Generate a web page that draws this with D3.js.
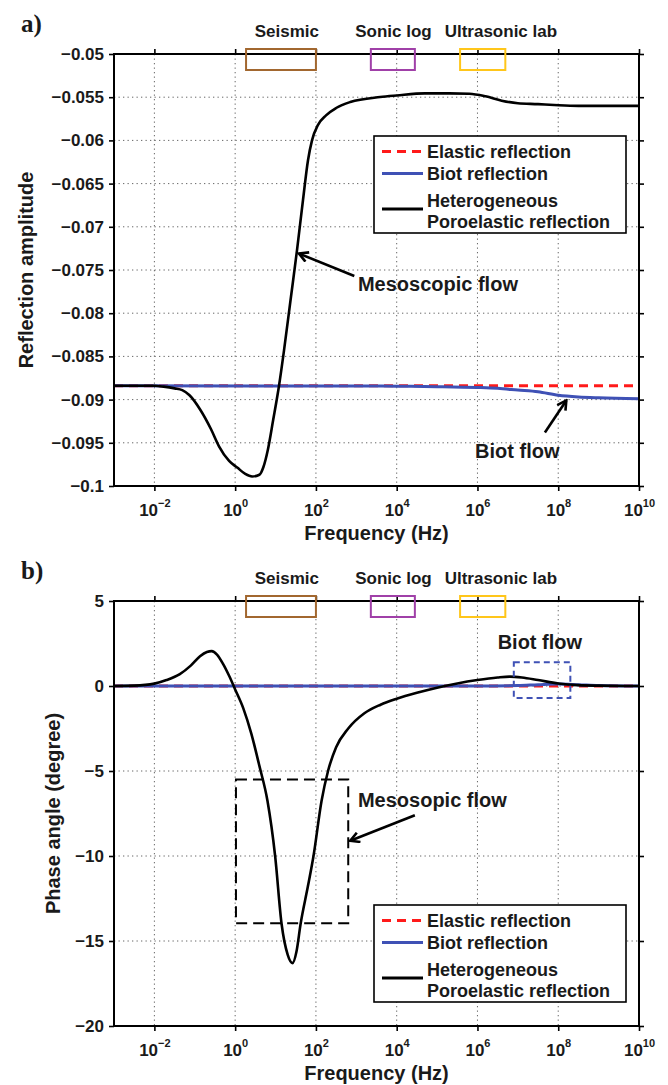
<!DOCTYPE html>
<html>
<head>
<meta charset="utf-8">
<script src="https://cdn.jsdelivr.net/npm/d3@7"></script>
<style>
  body { margin: 0; background: #fff; }
  svg text { font-family: "Liberation Sans", Arial, sans-serif; font-weight: bold; fill: #1a1a1a; }
</style>
</head>
<body>
<script>
// ---- data (frequency given as log10 of Hz) ----
var decades = [-2, 0, 2, 4, 6, 8, 10];
var ampTicks = [-0.1, -0.095, -0.09, -0.085, -0.08, -0.075, -0.07, -0.065, -0.06, -0.055, -0.05];
var phaseTicks = [-20, -15, -10, -5, 0, 5];

var bandNames = ["Seismic", "Sonic log", "Ultrasonic lab"];
var bandLo = [0.27, 3.36, 5.57];
var bandHi = [2.0, 4.45, 6.69];
var bandLabelAt = [1.28, 3.92, 6.58];

var legendNames = ["Elastic reflection", "Biot reflection", "Heterogeneous|Poroelastic reflection"];

// amplitude panel
var ampElastic = [[-3, -0.0884], [10, -0.0884]];
var ampBiot = [[-3, -0.0884], [3, -0.08842], [4, -0.08845], [5, -0.0885], [6, -0.0886], [6.5, -0.0887],
  [7, -0.0889], [7.5, -0.0891], [8, -0.0895], [8.5, -0.0897], [9, -0.0898], [10, -0.0899]];
var ampHetero = [[-3, -0.0884], [-2, -0.0884], [-1.77, -0.0885], [-1.5, -0.0887], [-1.31, -0.0889],
  [-1.13, -0.0895], [-0.86, -0.0912], [-0.6, -0.0934], [-0.4, -0.0954], [-0.15, -0.0971], [0.06, -0.0979],
  [0.25, -0.0986], [0.42, -0.0989], [0.6, -0.0987], [0.7, -0.0978], [0.81, -0.0958], [0.94, -0.0924],
  [1.086, -0.0884], [1.21, -0.0843], [1.371, -0.0785], [1.532, -0.0727], [1.68, -0.0669], [1.804, -0.0623],
  [1.903, -0.0600], [2.052, -0.0582], [2.25, -0.0571], [2.5, -0.05625], [2.85, -0.05556], [3.59, -0.05498],
  [4.0, -0.0548], [4.7, -0.05456], [5.3, -0.05456], [5.8, -0.0546], [6.2, -0.0549], [6.6, -0.0554],
  [7.0, -0.0557], [7.5, -0.0558], [7.9, -0.0559], [8.5, -0.0560], [10, -0.0560]];

// phase panel
var phaseElastic = [[-3, 0], [10, 0]];
var phaseBiot = [[-3, 0], [6, 0], [7, 0.03], [7.5, 0.08], [8, 0.12], [8.5, 0.08], [9, 0.03], [10, 0]];
var phaseHetero = [[-3, 0], [-2.5, 0.02], [-2, 0.14], [-1.7, 0.35], [-1.37, 0.7], [-1.1, 1.2], [-0.87, 1.75],
  [-0.7, 2.0], [-0.58, 2.05], [-0.45, 1.85], [-0.3, 1.3], [-0.15, 0.6], [0, -0.2], [0.2, -1.3], [0.4, -2.8],
  [0.6, -4.7], [0.8, -6.75], [0.99, -10], [1.15, -14], [1.3, -15.8], [1.42, -16.3], [1.52, -15.6],
  [1.62, -14], [1.8, -11.8], [1.94, -10], [2.14, -6.75], [2.3, -5], [2.5, -3.6], [2.8, -2.5], [3.2, -1.6],
  [3.6, -1.1], [4.0, -0.75], [4.5, -0.4], [5.0, -0.1], [5.5, 0.15], [6.0, 0.35], [6.5, 0.5], [6.8, 0.55],
  [7.1, 0.5], [7.5, 0.35], [8.0, 0.15], [8.5, 0.05], [9, 0.02], [10, 0]];

// ---- layout ----
var W = 668, H = 1085;
var L = 114, R = 639;
var bandColors = ["#a2672f", "#a040a8", "#ffc61a"];
var lineColors = ["#ff1a1a", "#3f51b5", "#000"];

var svg = d3.select("body").append("svg").attr("width", W).attr("height", H);

var defs = svg.append("defs");
defs.append("marker").attr("id", "arr")
  .attr("viewBox", "0 0 12 12").attr("refX", 10).attr("refY", 6)
  .attr("markerWidth", 12).attr("markerHeight", 12)
  .attr("markerUnits", "userSpaceOnUse").attr("orient", "auto")
  .append("path").attr("d", "M1,1 L10,6 L1,11")
  .attr("fill", "none").attr("stroke", "#000").attr("stroke-width", 2.6);

var x = d3.scaleLog().domain([1e-3, 1e10]).range([L, R]);
function fx(e) { return x(Math.pow(10, e)); }

function fmtNum(d) {
  var s = String(Math.abs(+d.toFixed(3)));
  return (d < 0 ? "\u2212" : "") + s;
}

function panel(p) {
  var y = d3.scaleLinear().domain(p.domain).range([p.bottom, p.top]);
  var g = svg.append("g");
  var cid = "clip" + p.id;
  defs.append("clipPath").attr("id", cid).append("rect")
    .attr("x", L).attr("y", p.top).attr("width", R - L).attr("height", p.bottom - p.top);

  // grid
  g.selectAll(".gx").data(decades.filter(function(d) { return d < 10; })).enter().append("line")
    .attr("x1", function(d) { return fx(d); }).attr("x2", function(d) { return fx(d); })
    .attr("y1", p.top).attr("y2", p.bottom)
    .attr("stroke", "#666").attr("stroke-width", 1).attr("stroke-dasharray", "1.3,3.2");
  g.selectAll(".gy").data(p.ticks.slice(1, -1)).enter().append("line")
    .attr("x1", L).attr("x2", R)
    .attr("y1", function(d) { return y(d); }).attr("y2", function(d) { return y(d); })
    .attr("stroke", "#666").attr("stroke-width", 1).attr("stroke-dasharray", "1.3,3.2");

  // axes
  var xb = g.append("g").attr("transform", "translate(0," + p.bottom + ")")
    .call(d3.axisBottom(x).tickValues(decades.map(function(d) { return Math.pow(10, d); }))
      .tickSizeInner(5).tickSizeOuter(0).tickPadding(8).tickFormat(""));
  xb.selectAll(".tick text").each(function(d) {
    var t = d3.select(this).attr("font-size", 17).attr("dy", null).attr("y", 30);
    t.append("tspan").text("10");
    t.append("tspan").attr("font-size", 11).attr("dy", -9)
      .text(Math.round(Math.log10(d)) < 0 ? "\u2212" + Math.abs(Math.round(Math.log10(d))) : Math.round(Math.log10(d)));
  });
  g.append("g").attr("transform", "translate(0," + p.top + ")")
    .call(d3.axisTop(x).tickValues(decades.map(function(d) { return Math.pow(10, d); }))
      .tickSizeInner(5).tickSizeOuter(0).tickFormat(""));
  var yl = g.append("g").attr("transform", "translate(" + L + ",0)")
    .call(d3.axisLeft(y).tickValues(p.ticks).tickSizeInner(5).tickSizeOuter(0).tickPadding(5).tickFormat(fmtNum));
  yl.selectAll("text").attr("font-size", 17).attr("fill", "#1a1a1a");
  g.append("g").attr("transform", "translate(" + R + ",0)")
    .call(d3.axisRight(y).tickValues(p.ticks).tickSizeInner(5).tickSizeOuter(0).tickFormat(""));
  g.selectAll(".domain").remove();
  g.selectAll(".tick line").attr("stroke", "#000").attr("stroke-width", 1.6);

  // series
  var line = d3.line().x(function(d) { return fx(d[0]); }).y(function(d) { return y(d[1]); })
    .curve(d3.curveMonotoneX);
  var plot = g.append("g").attr("clip-path", "url(#" + cid + ")");
  plot.append("path").datum(p.elastic).attr("d", line).attr("fill", "none")
    .attr("stroke", lineColors[0]).attr("stroke-width", 3).attr("stroke-dasharray", "9,6");
  plot.append("path").datum(p.biot).attr("d", line).attr("fill", "none")
    .attr("stroke", lineColors[1]).attr("stroke-width", 3);
  plot.append("path").datum(p.hetero).attr("d", line).attr("fill", "none")
    .attr("stroke", lineColors[2]).attr("stroke-width", 2.6);

  // frame
  g.append("rect").attr("x", L).attr("y", p.top).attr("width", R - L).attr("height", p.bottom - p.top)
    .attr("fill", "none").attr("stroke", "#000").attr("stroke-width", 2);

  // frequency bands
  bandNames.forEach(function(n, i) {
    g.append("rect").attr("x", fx(bandLo[i])).attr("y", p.top - 5)
      .attr("width", fx(bandHi[i]) - fx(bandLo[i])).attr("height", 21)
      .attr("fill", "none").attr("stroke", bandColors[i]).attr("stroke-width", 2);
    g.append("text").attr("x", fx(bandLabelAt[i])).attr("y", p.top - 17)
      .attr("text-anchor", "middle").attr("font-size", 17).text(n);
  });

  // axis labels
  g.append("text").attr("x", (L + R) / 2).attr("y", p.bottom + 54).attr("text-anchor", "middle")
    .attr("font-size", 20).text("Frequency (Hz)");
  g.append("text").attr("transform", "translate(" + p.ylabX + "," + (p.top + p.bottom) / 2 + ") rotate(-90)")
    .attr("text-anchor", "middle").attr("font-size", 20).text(p.ylabel);
  g.append("text").attr("x", 21).attr("y", p.top - 22)
    .style("font-family", "'Liberation Serif', 'Times New Roman', serif")
    .attr("font-size", 25).text(p.letter);

  // annotations
  p.notes.forEach(function(a) {
    g.append("text").attr("x", fx(a.at[0])).attr("y", y(a.at[1])).attr("font-size", 20).text(a.text);
    if (a.from) {
      g.append("line").attr("x1", fx(a.from[0])).attr("y1", y(a.from[1]))
        .attr("x2", fx(a.to[0])).attr("y2", y(a.to[1]))
        .attr("stroke", "#000").attr("stroke-width", 2.6).attr("marker-end", "url(#arr)");
    }
  });
  (p.boxes || []).forEach(function(b) {
    g.append("rect").attr("x", fx(b.f[0])).attr("y", y(b.v[1]))
      .attr("width", fx(b.f[1]) - fx(b.f[0])).attr("height", y(b.v[0]) - y(b.v[1]))
      .attr("fill", "none").attr("stroke", b.color).attr("stroke-width", 2)
      .attr("stroke-dasharray", b.dash);
  });

  // legend
  var lg = g.append("g").attr("transform", "translate(374," + p.legTop + ")");
  lg.append("rect").attr("width", 252).attr("height", 97).attr("fill", "#fff")
    .attr("stroke", "#000").attr("stroke-width", 1.6);
  var rows = [15.5, 37.5, 73];
  legendNames.forEach(function(n, i) {
    lg.append("line").attr("x1", 8).attr("x2", 49).attr("y1", rows[i]).attr("y2", rows[i])
      .attr("stroke", lineColors[i]).attr("stroke-width", 3)
      .attr("stroke-dasharray", i === 0 ? "9,6" : null);
    var parts = n.split("|");
    if (parts.length === 1) {
      lg.append("text").attr("x", 53).attr("y", rows[i] + 6.5).attr("font-size", 18).text(n);
    } else {
      lg.append("text").attr("x", 53).attr("y", 64 + 6.5).attr("font-size", 18).text(parts[0]);
      lg.append("text").attr("x", 53).attr("y", 85 + 6.5).attr("font-size", 18).text(parts[1]);
    }
  });
}

panel({
  id: "a", top: 54, bottom: 486, domain: [-0.1, -0.05], ticks: ampTicks,
  elastic: ampElastic, biot: ampBiot, hetero: ampHetero,
  ylabel: "Reflection amplitude", ylabX: 33, letter: "a)", legTop: 136,
  notes: [
    { text: "Mesoscopic flow", at: [3.04, -0.0774], from: [2.95, -0.0757], to: [1.58, -0.0731] },
    { text: "Biot flow", at: [5.94, -0.0968], from: [7.67, -0.0938], to: [8.2, -0.0901] }
  ]
});

panel({
  id: "b", top: 601, bottom: 1026, domain: [-20, 5], ticks: phaseTicks,
  elastic: phaseElastic, biot: phaseBiot, hetero: phaseHetero,
  ylabel: "Phase angle (degree)", ylabX: 60, letter: "b)", legTop: 905,
  notes: [
    { text: "Biot flow", at: [6.5, 2.17] },
    { text: "Mesosopic flow", at: [3.04, -7.1], from: [4.45, -7.6], to: [2.85, -9.1] }
  ],
  boxes: [
    { f: [6.9, 8.3], v: [-0.7, 1.4], color: "#3f51b5", dash: "6,4" },
    { f: [0.02, 2.8], v: [-13.95, -5.5], color: "#000", dash: "11,6" }
  ]
});
</script>
</body>
</html>
